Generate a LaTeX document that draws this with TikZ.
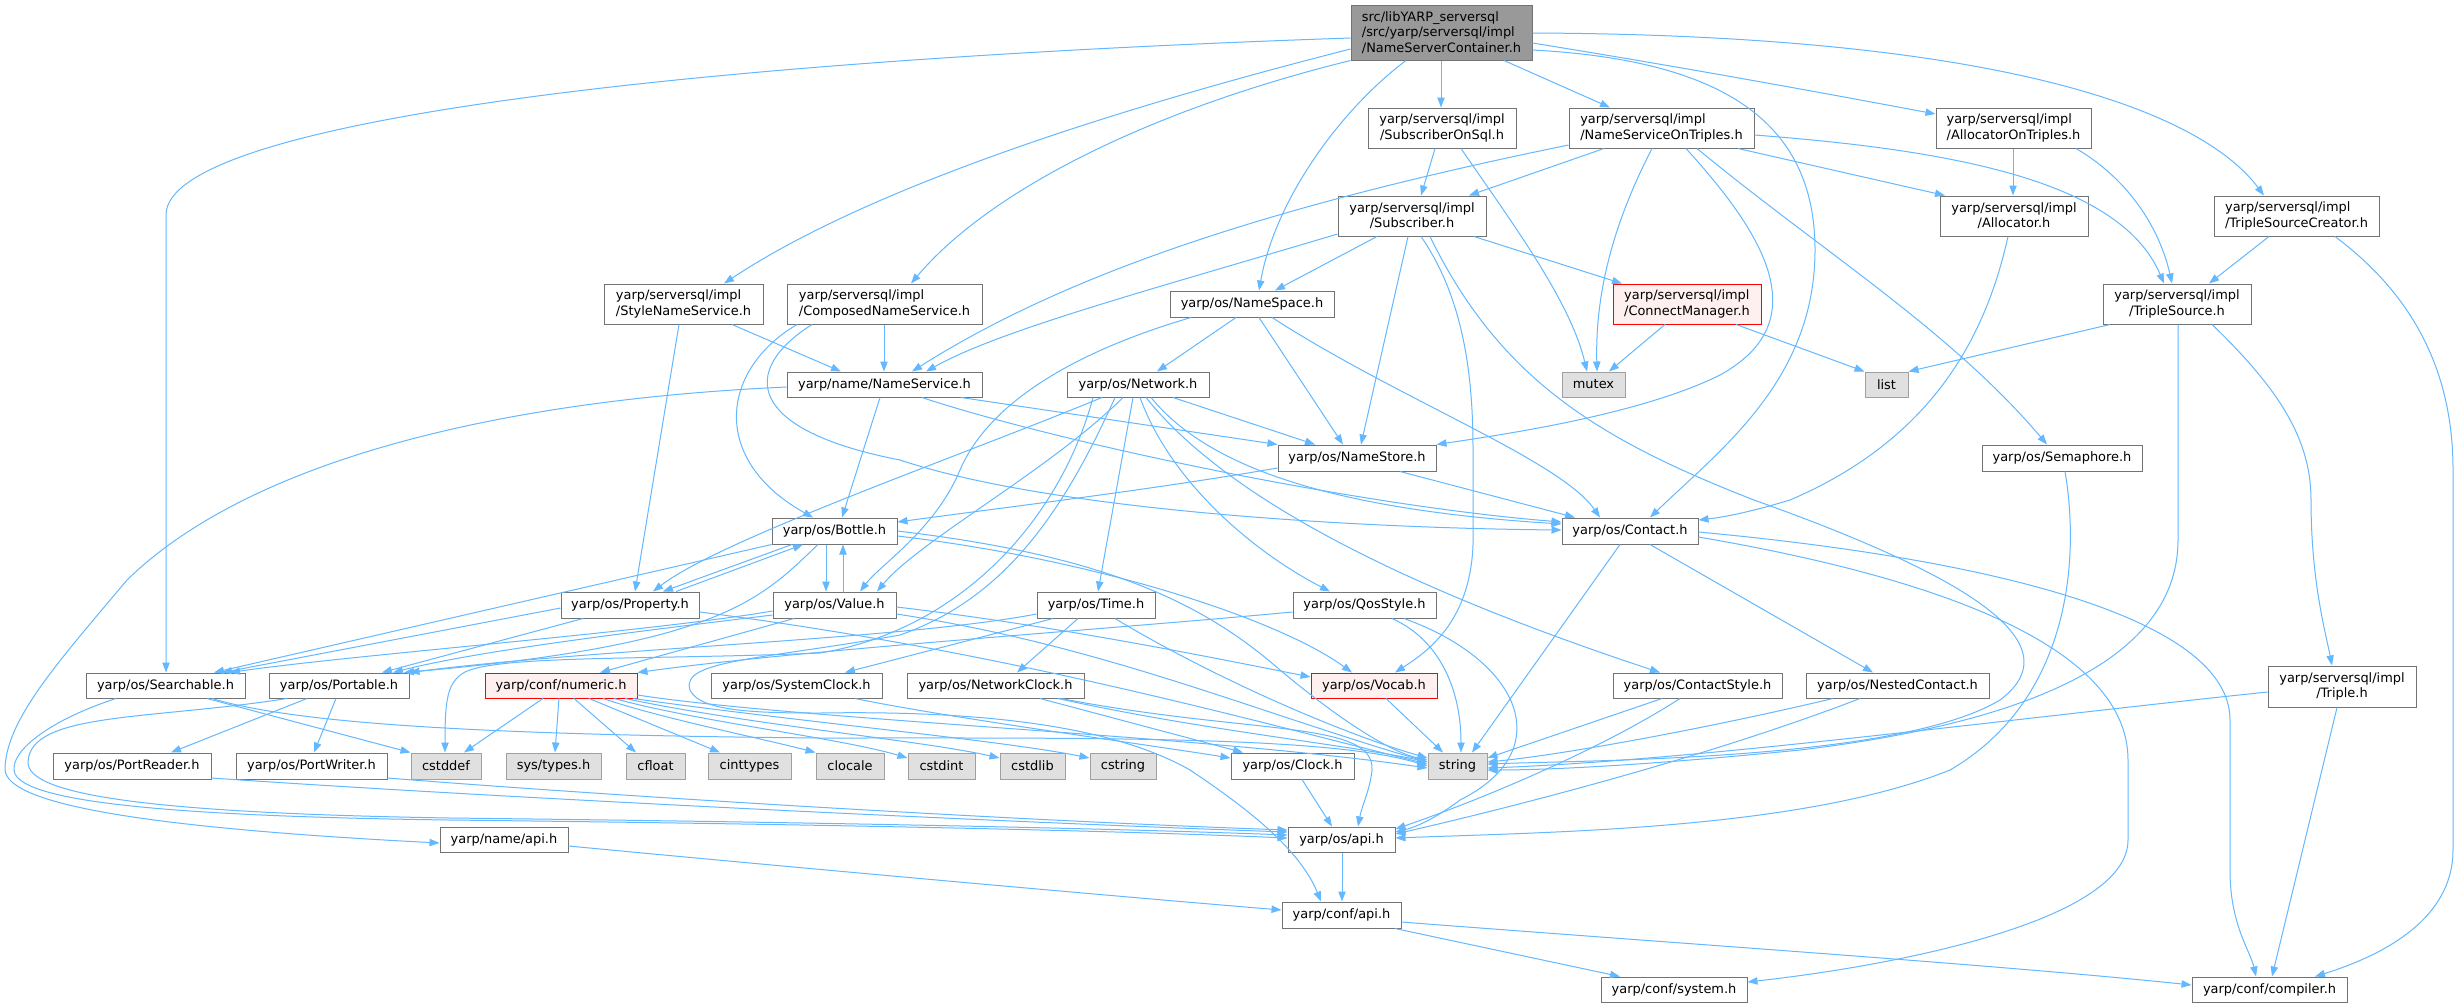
\documentclass[tikz,border=0pt]{standalone}
\usepackage{fontspec}
\setmainfont{DejaVu Sans}
\usetikzlibrary{arrows.meta}
\definecolor{edgec}{RGB}{99,184,255}
\definecolor{bordergray}{RGB}{115,115,115}
\definecolor{extborder}{RGB}{160,160,160}
\definecolor{extfill}{RGB}{224,224,224}
\definecolor{truncfill}{RGB}{255,240,240}
\definecolor{mainfill}{RGB}{153,153,153}
\newcommand\mkbox[7]{%
  \pgfmathsetmacro\mkbw{(#5-#3)*0.75}\pgfmathsetmacro\mkbh{(#6-#4)*0.75}%
  \node[#1,minimum width=\mkbw pt,minimum height=\mkbh pt] (#2) at ({(#3+#5)/2},{(#4+#6)/2}) {#7};}
\tikzset{
  box/.style={draw=bordergray, fill=white, line width=0.75pt, inner sep=0pt, align=center,
    font=\fontsize{9.7pt}{11.4pt}\selectfont},
  boxl/.style={box, align=left},
  ext/.style={box, draw=extborder, fill=extfill},
  trunc/.style={box, draw=red, fill=truncfill, line width=0.7pt},
  truncl/.style={trunc, align=left},
  mainbox/.style={box, fill=mainfill, align=left},
  e/.style={draw=edgec, line width=0.75pt, -{Triangle[length=7.5pt,width=5.5pt]}},
}
\begin{document}
\begin{tikzpicture}[x=0.75pt, y={(0pt,-0.75pt)}]
\fill[white] (0,0) rectangle (2459,1004);
\useasboundingbox (0,0) rectangle (2459,1004);
% ---------- nodes ----------
\mkbox{mainbox}{main}{1351}{5}{1532}{60}{src/libYARP\_serversql\\/src/yarp/serversql/impl\\/NameServerContainer.h}
\mkbox{box}{sos}{1368}{108}{1516}{148}{yarp/serversql/impl\\/SubscriberOnSql.h}
\mkbox{boxl}{nsot}{1569}{108}{1754}{148}{yarp/serversql/impl\\/NameServiceOnTriples.h}
\mkbox{boxl}{aot}{1936}{108}{2091}{148}{yarp/serversql/impl\\/AllocatorOnTriples.h}
\mkbox{box}{sub}{1338}{196}{1486}{236}{yarp/serversql/impl\\/Subscriber.h}
\mkbox{box}{alloc}{1940}{196}{2088}{236}{yarp/serversql/impl\\/Allocator.h}
\mkbox{boxl}{tsc}{2214}{196}{2379}{236}{yarp/serversql/impl\\/TripleSourceCreator.h}
\mkbox{boxl}{sns}{604}{284}{763}{324}{yarp/serversql/impl\\/StyleNameService.h}
\mkbox{boxl}{cns}{787}{284}{982}{324}{yarp/serversql/impl\\/ComposedNameService.h}
\mkbox{box}{nsp}{1170}{291}{1334}{317}{yarp/os/NameSpace.h}
\mkbox{truncl}{cm}{1613}{284}{1761}{324}{yarp/serversql/impl\\/ConnectManager.h}
\mkbox{box}{ts}{2103}{284}{2251}{324}{yarp/serversql/impl\\/TripleSource.h}
\mkbox{box}{nsv}{787}{372}{982}{397}{yarp/name/NameService.h}
\mkbox{box}{net}{1067}{372}{1209}{397}{yarp/os/Network.h}
\mkbox{ext}{mutex}{1562}{372}{1625}{397}{mutex}
\mkbox{ext}{list}{1865}{372}{1908}{397}{list}
\mkbox{box}{nst}{1278}{445}{1436}{471}{yarp/os/NameStore.h}
\mkbox{box}{sem}{1982}{445}{2142}{471}{yarp/os/Semaphore.h}
\mkbox{box}{bot}{772}{518}{897}{544}{yarp/os/Bottle.h}
\mkbox{box}{con}{1562}{518}{1698}{544}{yarp/os/Contact.h}
\mkbox{box}{prop}{561}{592}{699}{618}{yarp/os/Property.h}
\mkbox{box}{val}{773}{592}{896}{618}{yarp/os/Value.h}
\mkbox{box}{time}{1037}{592}{1155}{618}{yarp/os/Time.h}
\mkbox{box}{qos}{1293}{592}{1436}{618}{yarp/os/QosStyle.h}
\mkbox{box}{sea}{86}{673}{245}{698}{yarp/os/Searchable.h}
\mkbox{box}{por}{269}{673}{409}{698}{yarp/os/Portable.h}
\mkbox{trunc}{num}{485}{673}{637}{698}{yarp/conf/numeric.h}
\mkbox{box}{sysc}{711}{673}{882}{698}{yarp/os/SystemClock.h}
\mkbox{box}{netc}{907}{673}{1084}{698}{yarp/os/NetworkClock.h}
\mkbox{trunc}{voc}{1311}{673}{1437}{698}{yarp/os/Vocab.h}
\mkbox{box}{cst}{1613}{673}{1782}{698}{yarp/os/ContactStyle.h}
\mkbox{box}{nc}{1806}{673}{1989}{698}{yarp/os/NestedContact.h}
\mkbox{box}{trip}{2268}{666}{2416}{707}{yarp/serversql/impl\\/Triple.h}
\mkbox{box}{prd}{53}{753}{211}{779}{yarp/os/PortReader.h}
\mkbox{box}{pwr}{236}{753}{387}{779}{yarp/os/PortWriter.h}
\mkbox{ext}{cstddef}{411}{753}{481}{779}{cstddef}
\mkbox{ext}{systypes}{506}{753}{601}{779}{sys/types.h}
\mkbox{ext}{cfloat}{626}{753}{685}{779}{cfloat}
\mkbox{ext}{cinttypes}{708}{753}{791}{779}{cinttypes}
\mkbox{ext}{clocale}{816}{753}{884}{779}{clocale}
\mkbox{ext}{cstdint}{908}{753}{975}{779}{cstdint}
\mkbox{ext}{cstdlib}{1000}{753}{1065}{779}{cstdlib}
\mkbox{ext}{cstring}{1090}{753}{1156}{779}{cstring}
\mkbox{box}{clock}{1231}{753}{1354}{779}{yarp/os/Clock.h}
\mkbox{ext}{string}{1428}{753}{1487}{779}{string}
\mkbox{box}{osapi}{1288}{827}{1395}{852}{yarp/os/api.h}
\mkbox{box}{nameapi}{440}{827}{568}{852}{yarp/name/api.h}
\mkbox{box}{confapi}{1282}{902}{1401}{928}{yarp/conf/api.h}
\mkbox{box}{sysh}{1601}{977}{1747}{1002}{yarp/conf/system.h}
\mkbox{box}{comp}{2192}{977}{2347}{1002}{yarp/conf/compiler.h}
% ---------- edges: main ----------
\draw[e] (main.west |- 0,38) .. controls (700,60) and (166,120) .. (166,215) -- (sea.north -| 166,0);
\draw[e] (main.west |- 0,49) .. controls (1150,100) and (880,180) .. (sns.north -| 724,0);
\draw[e] (main.south west) .. controls (1150,110) and (990,190) .. (cns.north -| 911,0);
\draw[e] (main.south -| 1406,0) .. controls (1340,110) and (1275,200) .. (nsp.north -| 1259,0);
\draw[e] (main.south -| 1441,0) -- (sos.north -| 1441,0);
\draw[e] (main.south -| 1504,0) -- (nsot.north -| 1610,0);
\draw[e] (main.east |- 0,43) .. controls (1700,70) and (1850,98) .. (aot.west |- 0,114);
\draw[e] (main.east |- 0,50) .. controls (1720,60) and (1815,120) .. (1815,250) .. controls (1815,380) and (1720,450) .. (con.north -| 1650,0);
\draw[e] (main.east |- 0,33) .. controls (2000,35) and (2200,110) .. (tsc.north -| 2264,0);
% sos
\draw[e] (sos.south -| 1435,0) -- (sub.north -| 1421,0);
\draw[e] (sos.south -| 1461,0) .. controls (1510,220) and (1570,300) .. (mutex.north -| 1587,0);
% nsot
\draw[e] (nsot.west |- 0,145) .. controls (1300,200) and (1080,265) .. (nsv.north -| 912,0);
\draw[e] (nsot.south -| 1604,0) -- (sub.north -| 1469,0);
\draw[e] (nsot.south -| 1652,0) .. controls (1615,220) and (1595,290) .. (mutex.north -| 1597,0);
\draw[e] (nsot.south -| 1738,0) -- (alloc.north -| 1945,0);
\draw[e] (nsot.east |- 0,135) .. controls (1950,150) and (2120,180) .. (ts.north -| 2164,0);
\draw[e] (nsot.south -| 1686,0) .. controls (1760,230) and (1820,320) .. (1720,375) .. controls (1640,415) and (1500,435) .. (nst.north east);
\draw[e] (nsot.south -| 1697,0) .. controls (1820,250) and (1950,330) .. (sem.north -| 2047,0);
% aot
\draw[e] (aot.south -| 2013,0) -- (alloc.north -| 2013,0);
\draw[e] (aot.south -| 2076,0) .. controls (2130,180) and (2160,230) .. (ts.north -| 2172,0);
% sub
\draw[e] (sub.west |- 0,234) .. controls (1150,290) and (1000,330) .. (nsv.north -| 926,0);
\draw[e] (sub.south -| 1377,0) -- (nsp.north -| 1275,0);
\draw[e] (sub.south -| 1408,0) -- (nst.north -| 1361,0);
\draw[e] (sub.south -| 1421,0) .. controls (1465,300) and (1473,380) .. (1473,450) -- (1473,545) .. controls (1470,620) and (1430,650) .. (voc.north -| 1395,0);
\draw[e] (sub.south -| 1430,0) .. controls (1500,380) and (1600,440) .. (1754,500) .. controls (1950,570) and (2080,640) .. (2000,700) .. controls (1900,760) and (1600,760) .. (string.east |- 0,764);
\draw[e] (sub.south -| 1474,0) -- (cm.north -| 1622,0);
% alloc, tsc
\draw[e] (alloc.south -| 2008,0) .. controls (1985,340) and (1930,440) .. (1790,500) .. controls (1750,512) and (1725,517) .. (con.east |- 0,520);
\draw[e] (tsc.south -| 2269,0) -- (ts.north -| 2209,0);
\draw[e] (tsc.south -| 2335,0) .. controls (2420,300) and (2453,380) .. (2453,470) -- (2453,850) .. controls (2453,910) and (2400,950) .. (comp.north -| 2315,0);
% sns, cns
\draw[e] (sns.south -| 732,0) -- (nsv.north -| 841,0);
\draw[e] (sns.south -| 679,0) -- (prop.north -| 635,0);
\draw[e] (cns.south -| 884,0) -- (nsv.north -| 884,0);
\draw[e] (cns.south -| 797,0) .. controls (720,370) and (710,460) .. (bot.north -| 813,0);
\draw[e] (cns.south -| 812,0) .. controls (740,370) and (745,430) .. (900,460) .. controls (1050,510) and (1350,528) .. (con.west |- 0,530);
% nsp
\draw[e] (nsp.south -| 1191,0) .. controls (1080,350) and (990,400) .. (960,470) .. controls (935,530) and (880,565) .. (val.north -| 860,0);
\draw[e] (nsp.south -| 1236,0) -- (net.north -| 1157,0);
\draw[e] (nsp.south -| 1259,0) -- (nst.north -| 1343,0);
\draw[e] (nsp.south -| 1272,0) .. controls (1400,400) and (1560,460) .. (con.north -| 1600,0);
% cm, ts
\draw[e] (cm.south -| 1665,0) -- (mutex.north -| 1609,0);
\draw[e] (cm.south -| 1736,0) -- (list.north west);
\draw[e] (ts.south -| 2110,0) -- (list.north east);
\draw[e] (ts.south -| 2178,0) -- (2178,540) .. controls (2178,650) and (2050,720) .. (1800,750) .. controls (1650,765) and (1550,770) .. (string.east |- 0,770);
\draw[e] (ts.south -| 2212,0) .. controls (2280,390) and (2311,440) .. (2311,500) .. controls (2311,580) and (2325,630) .. (trip.north -| 2332,0);
% nsv
\draw[e] (nsv.west |- 0,387) .. controls (500,400) and (250,460) .. (127,580) .. controls (60,660) and (5,720) .. (5,770) .. controls (8,805) and (150,828) .. (nameapi.west |- 0,843);
\draw[e] (nsv.south -| 880,0) -- (bot.north -| 842,0);
\draw[e] (nsv.south -| 961,0) -- (nst.north west);
\draw[e] (nsv.south -| 922,0) .. controls (1050,440) and (1350,505) .. (con.west |- 0,522);
% net
\draw[e] (net.south -| 1102,0) .. controls (950,460) and (720,540) .. (prop.north -| 653,0);
\draw[e] (net.south -| 1123,0) .. controls (1050,470) and (920,540) .. (val.north -| 877,0);
\draw[e] (net.south -| 1093,0) .. controls (1060,520) and (960,630) .. (820,653) .. controls (650,660) and (500,655) .. (465,672) .. controls (447,682) and (445,700) .. (cstddef.north -| 445,0);
\draw[e] (net.south -| 1115,0) .. controls (1060,520) and (1000,600) .. (900,635) .. controls (760,660) and (680,660) .. (690,690) .. controls (700,712) and (760,713) .. (820,713) .. controls (1000,710) and (1120,730) .. (1190,770) .. controls (1250,810) and (1300,850) .. (confapi.north -| 1321,0);
\draw[e] (net.south -| 1133,0) -- (time.north -| 1098,0);
\draw[e] (net.south -| 1140,0) .. controls (1170,480) and (1250,550) .. (qos.north -| 1330,0);
\draw[e] (net.south -| 1146,0) .. controls (1220,490) and (1380,580) .. (cst.north -| 1660,0);
\draw[e] (net.south -| 1151,0) .. controls (1210,470) and (1340,510) .. (con.west |- 0,524);
\draw[e] (net.south -| 1173,0) -- (nst.north -| 1315,0);
% nst, sem
\draw[e] (nst.west |- 0,468) .. controls (1150,490) and (1000,508) .. (bot.east |- 0,522);
\draw[e] (nst.south -| 1400,0) -- (con.north -| 1575,0);
\draw[e] (sem.south -| 2065,0) .. controls (2080,560) and (2070,700) .. (1950,770) .. controls (1800,830) and (1550,832) .. (osapi.east |- 0,838);
% bot
\draw[e] (bot.south -| 826,0) -- (val.north -| 826,0);
\draw[e] (val.north -| 843,0) -- (bot.south -| 843,0);
\draw[e] (bot.south -| 792,0) -- (prop.north -| 663,0);
\draw[e] (prop.north -| 676,0) -- (bot.south -| 803,0);
\draw[e] (bot.south west) -- (sea.north -| 214,0);
\draw[e] (bot.south -| 818,0) .. controls (760,600) and (720,645) .. (por.north -| 404,0);
\draw[e] (bot.east |- 0,531) .. controls (1100,555) and (1200,600) .. (1280,670) .. controls (1340,720) and (1390,752) .. (string.west |- 0,760);
\draw[e] (bot.east |- 0,536) .. controls (1100,560) and (1280,620) .. (voc.north -| 1352,0);
% prop
\draw[e] (prop.west |- 0,608) -- (sea.north -| 222,0);
\draw[e] (prop.south -| 583,0) -- (por.north -| 382,0);
\draw[e] (prop.east |- 0,612) .. controls (1000,650) and (1250,720) .. (string.west |- 0,764);
% val
\draw[e] (val.west |- 0,611) .. controls (650,632) and (350,655) .. (sea.north -| 230,0);
\draw[e] (val.west |- 0,615) .. controls (650,630) and (480,650) .. (por.north -| 393,0);
\draw[e] (val.south -| 794,0) -- (num.north -| 600,0);
\draw[e] (val.east |- 0,607) .. controls (1050,625) and (1200,655) .. (voc.west |- 0,677);
\draw[e] (val.east |- 0,614) .. controls (1100,645) and (1250,710) .. (string.west |- 0,762);
% time
\draw[e] (time.south -| 1053,0) -- (sysc.north -| 845,0);
\draw[e] (time.south -| 1078,0) -- (netc.north -| 1017,0);
\draw[e] (time.south -| 1115,0) .. controls (1200,670) and (1330,730) .. (string.west |- 0,758);
\draw[e] (time.west |- 0,614) .. controls (900,640) and (600,648) .. (por.north east);
% qos
\draw[e] (qos.west |- 0,612) .. controls (1100,630) and (800,650) .. (num.north east);
\draw[e] (qos.south -| 1392,0) .. controls (1440,640) and (1461,690) .. (string.north -| 1461,0);
\draw[e] (qos.south -| 1404,0) .. controls (1520,660) and (1560,750) .. (1460,800) .. controls (1440,815) and (1420,826) .. (osapi.east |- 0,832);
% sea
\draw[e] (sea.south -| 207,0) -- (cstddef.north west);
\draw[e] (sea.south -| 212,0) .. controls (300,725) and (500,735) .. (820,738) .. controls (1100,738) and (1330,736) .. (string.west |- 0,766);
\draw[e] (sea.south -| 116,0) .. controls (50,720) and (12,750) .. (14,770) .. controls (16,800) and (150,816) .. (450,820) .. controls (800,824) and (1100,830) .. (osapi.west |- 0,838);
% por
\draw[e] (por.south -| 307,0) -- (prd.north -| 171,0);
\draw[e] (por.south -| 336,0) -- (pwr.north -| 314,0);
\draw[e] (por.south -| 287,0) .. controls (150,720) and (30,712) .. (28,762) .. controls (27,795) and (150,813) .. (450,818) .. controls (800,822) and (1100,828) .. (osapi.west |- 0,835);
\draw[e] (prd.east |- 0,778) .. controls (500,798) and (1000,822) .. (osapi.west |- 0,832);
\draw[e] (pwr.east |- 0,778) .. controls (600,795) and (1000,820) .. (osapi.west |- 0,830);
% numeric
\draw[e] (num.south -| 543,0) -- (cstddef.north -| 464,0);
\draw[e] (num.south -| 559,0) -- (systypes.north -| 555,0);
\draw[e] (num.south -| 574,0) -- (cfloat.north -| 636,0);
\draw[e] (num.south -| 589,0) -- (cinttypes.north -| 720,0);
\draw[e] (num.south -| 603,0) .. controls (660,718) and (760,738) .. (clocale.north west);
\draw[e] (num.south -| 614,0) .. controls (700,722) and (840,738) .. (cstdint.west |- 0,758);
\draw[e] (num.south -| 625,0) .. controls (750,725) and (920,740) .. (cstdlib.west |- 0,758);
\draw[e] (num.south -| 633,0) .. controls (800,722) and (1000,740) .. (cstring.west |- 0,758);
\draw[e] (num.east |- 0,695) .. controls (800,720) and (1200,735) .. (string.west |- 0,768);
% clocks
\draw[e] (sysc.south -| 855,0) .. controls (950,718) and (1150,745) .. (clock.west |- 0,758);
\draw[e] (netc.south -| 1040,0) -- (clock.north -| 1243,0);
\draw[e] (netc.south -| 1058,0) .. controls (1200,730) and (1350,745) .. (string.west |- 0,762);
\draw[e] (netc.south -| 1061,0) .. controls (1250,735) and (1375,720) .. (1372,770) .. controls (1370,790) and (1362,805) .. (osapi.north -| 1358,0);
\draw[e] (voc.south -| 1386,0) -- (string.north -| 1443,0);
% contact
\draw[e] (con.south -| 1620,0) -- (string.north -| 1472,0);
\draw[e] (con.south -| 1650,0) -- (nc.north -| 1873,0);
\draw[e] (con.east |- 0,532) .. controls (2000,560) and (2230,620) .. (2230,720) -- (2230,870) .. controls (2230,925) and (2250,950) .. (comp.north -| 2256,0);
\draw[e] (con.east |- 0,537) .. controls (1950,580) and (2128,650) .. (2128,760) -- (2128,840) .. controls (2128,920) and (1900,965) .. (sysh.east |- 0,982);
\draw[e] (cst.south -| 1662,0) -- (string.east |- 0,758);
\draw[e] (cst.south -| 1680,0) .. controls (1600,750) and (1480,800) .. (osapi.east |- 0,829);
\draw[e] (nc.south -| 1833,0) .. controls (1700,730) and (1560,755) .. (string.east |- 0,762);
\draw[e] (nc.south -| 1860,0) .. controls (1700,760) and (1500,810) .. (osapi.east |- 0,834);
\draw[e] (trip.west |- 0,692) .. controls (2000,720) and (1700,760) .. (string.east |- 0,768);
\draw[e] (trip.south -| 2337,0) -- (comp.north -| 2272,0);
% api
\draw[e] (clock.south -| 1302,0) -- (osapi.north -| 1332,0);
\draw[e] (osapi.south -| 1342,0) -- (confapi.north -| 1342,0);
\draw[e] (nameapi.east |- 0,846) .. controls (800,868) and (1100,895) .. (confapi.west |- 0,910);
\draw[e] (confapi.south -| 1395,0) -- (sysh.north -| 1620,0);
\draw[e] (confapi.east |- 0,922) .. controls (1700,945) and (2000,965) .. (comp.west |- 0,985);
\end{tikzpicture}
\end{document}
